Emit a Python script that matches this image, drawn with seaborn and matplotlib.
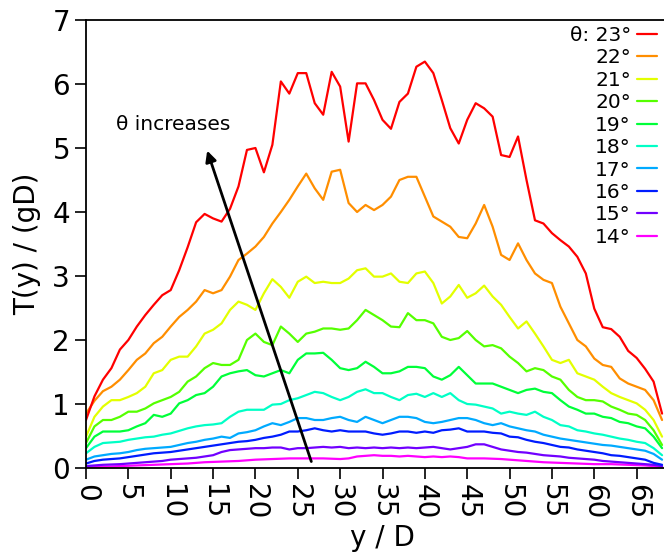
import colorsys
import matplotlib
matplotlib.use("Agg")
import matplotlib.pyplot as plt
import seaborn as sns
import pandas as pd

# y / D positions (common grid)
y_pos = list(range(0, 69))

thetas = [23, 22, 21, 20, 19, 18, 17, 16, 15, 14]

t23 = [0.75, 1.12, 1.38, 1.56, 1.85, 2.0, 2.21, 2.39, 2.55, 2.7,
       2.78, 3.09, 3.45, 3.84, 3.97, 3.9, 3.85, 4.05, 4.4, 4.97,
       5.0, 4.62, 5.05, 6.04, 5.85, 6.17, 6.17, 5.7, 5.52, 6.19,
       5.96, 5.1, 6.01, 6.01, 5.75, 5.44, 5.3, 5.72, 5.85, 6.27,
       6.35, 6.17, 5.75, 5.31, 5.07, 5.44, 5.7, 5.62, 5.49, 4.89,
       4.86, 5.18, 4.5, 3.87, 3.82, 3.67, 3.56, 3.46, 3.3, 3.04,
       2.49, 2.2, 2.17, 2.05, 1.83, 1.72, 1.55, 1.35, 0.85]
t22 = [0.85, 1.05, 1.2, 1.27, 1.38, 1.53, 1.69, 1.79, 1.95, 2.05,
       2.21, 2.36, 2.47, 2.6, 2.78, 2.73, 2.78, 2.99, 3.25, 3.35,
       3.46, 3.61, 3.82, 4.0, 4.19, 4.4, 4.6, 4.37, 4.19, 4.63,
       4.66, 4.14, 4.0, 4.11, 4.03, 4.11, 4.24, 4.5, 4.55, 4.55,
       4.24, 3.93, 3.85, 3.77, 3.61, 3.59, 3.82, 4.11, 3.77, 3.33,
       3.25, 3.51, 3.25, 3.04, 2.94, 2.89, 2.52, 2.26, 2.0, 1.9,
       1.71, 1.61, 1.58, 1.4, 1.32, 1.27, 1.22, 1.06, 0.75]
t21 = [0.49, 0.8, 0.96, 1.06, 1.06, 1.11, 1.17, 1.27, 1.48, 1.53,
       1.69, 1.74, 1.74, 1.9, 2.1, 2.16, 2.26, 2.47, 2.6, 2.55,
       2.47, 2.73, 2.95, 2.83, 2.66, 2.91, 2.99, 2.89, 2.91, 2.89,
       2.89, 2.96, 3.09, 3.12, 2.99, 2.99, 3.04, 2.91, 2.89, 3.04,
       3.07, 2.89, 2.57, 2.68, 2.86, 2.66, 2.73, 2.85, 2.68, 2.55,
       2.36, 2.18, 2.29, 2.1, 1.9, 1.69, 1.64, 1.69, 1.48, 1.43,
       1.38, 1.27, 1.17, 1.11, 1.06, 1.01, 0.91, 0.75, 0.49]
t20 = [0.39, 0.65, 0.75, 0.75, 0.8, 0.88, 0.88, 0.93, 1.01, 1.06,
       1.11, 1.19, 1.35, 1.43, 1.56, 1.64, 1.61, 1.61, 1.69, 2.0,
       2.1, 1.97, 1.92, 2.21, 2.1, 1.97, 2.1, 2.13, 2.18, 2.18,
       2.16, 2.18, 2.31, 2.47, 2.39, 2.31, 2.21, 2.2, 2.42, 2.31,
       2.31, 2.26, 2.05, 2.0, 2.03, 2.14, 2.0, 1.9, 1.92, 1.87,
       1.74, 1.64, 1.51, 1.56, 1.53, 1.43, 1.38, 1.22, 1.11, 1.06,
       1.06, 1.04, 0.96, 0.91, 0.85, 0.83, 0.75, 0.59, 0.36]
t19 = [0.31, 0.49, 0.57, 0.57, 0.57, 0.59, 0.65, 0.7, 0.83, 0.8,
       0.85, 1.01, 1.06, 1.14, 1.17, 1.27, 1.43, 1.48, 1.51, 1.53,
       1.45, 1.43, 1.48, 1.53, 1.48, 1.69, 1.79, 1.79, 1.8, 1.69,
       1.56, 1.53, 1.56, 1.66, 1.58, 1.48, 1.48, 1.51, 1.58, 1.58,
       1.56, 1.43, 1.38, 1.45, 1.58, 1.45, 1.32, 1.32, 1.32, 1.27,
       1.22, 1.17, 1.22, 1.24, 1.19, 1.17, 1.06, 0.96, 0.91, 0.85,
       0.85, 0.8, 0.78, 0.72, 0.7, 0.65, 0.62, 0.49, 0.31]
t18 = [0.23, 0.33, 0.39, 0.4, 0.41, 0.44, 0.46, 0.48, 0.49, 0.52,
       0.54, 0.58, 0.62, 0.65, 0.67, 0.68, 0.7, 0.8, 0.88, 0.91,
       0.91, 0.91, 0.99, 1.0, 1.06, 1.09, 1.14, 1.19, 1.17, 1.11,
       1.06, 1.11, 1.19, 1.23, 1.17, 1.17, 1.11, 1.06, 1.14, 1.16,
       1.11, 1.17, 1.11, 1.17, 1.06, 1.0, 0.99, 0.96, 0.93, 0.85,
       0.88, 0.85, 0.83, 0.88, 0.8, 0.75, 0.67, 0.65, 0.59, 0.57,
       0.54, 0.52, 0.49, 0.46, 0.44, 0.41, 0.39, 0.31, 0.2]
t17 = [0.13, 0.18, 0.2, 0.22, 0.23, 0.25, 0.28, 0.3, 0.31, 0.32,
       0.33, 0.36, 0.39, 0.41, 0.44, 0.46, 0.49, 0.47, 0.54, 0.56,
       0.59, 0.65, 0.7, 0.67, 0.72, 0.78, 0.78, 0.75, 0.75, 0.78,
       0.8, 0.75, 0.72, 0.8, 0.75, 0.7, 0.75, 0.8, 0.8, 0.78,
       0.72, 0.7, 0.72, 0.75, 0.78, 0.78, 0.75, 0.7, 0.67, 0.7,
       0.65, 0.62, 0.59, 0.57, 0.52, 0.49, 0.46, 0.44, 0.42, 0.4,
       0.38, 0.36, 0.35, 0.33, 0.31, 0.29, 0.27, 0.22, 0.13]
t16 = [0.07, 0.11, 0.13, 0.14, 0.15, 0.17, 0.19, 0.21, 0.23, 0.24,
       0.25, 0.27, 0.29, 0.31, 0.33, 0.35, 0.37, 0.39, 0.41, 0.42,
       0.44, 0.47, 0.49, 0.52, 0.57, 0.57, 0.59, 0.62, 0.59, 0.57,
       0.59, 0.57, 0.57, 0.57, 0.54, 0.52, 0.54, 0.57, 0.57, 0.55,
       0.57, 0.55, 0.59, 0.6, 0.62, 0.57, 0.57, 0.57, 0.55, 0.54,
       0.49, 0.48, 0.44, 0.41, 0.39, 0.36, 0.33, 0.32, 0.29, 0.27,
       0.25, 0.23, 0.2, 0.19, 0.17, 0.15, 0.13, 0.08, 0.05]
t15 = [0.03, 0.04, 0.05, 0.055, 0.06, 0.07, 0.08, 0.09, 0.1, 0.11,
       0.13, 0.14, 0.15, 0.16, 0.18, 0.2, 0.25, 0.28, 0.29, 0.3,
       0.31, 0.31, 0.32, 0.32, 0.29, 0.31, 0.31, 0.32, 0.33, 0.32,
       0.33, 0.31, 0.32, 0.31, 0.32, 0.31, 0.32, 0.31, 0.32, 0.31,
       0.32, 0.33, 0.31, 0.29, 0.31, 0.33, 0.37, 0.37, 0.33, 0.29,
       0.27, 0.25, 0.24, 0.22, 0.2, 0.19, 0.18, 0.16, 0.15, 0.14,
       0.13, 0.11, 0.1, 0.09, 0.08, 0.07, 0.06, 0.05, 0.03]
t14 = [0.01, 0.015, 0.02, 0.025, 0.03, 0.035, 0.04, 0.045, 0.05, 0.055,
       0.06, 0.065, 0.07, 0.08, 0.09, 0.095, 0.1, 0.105, 0.11, 0.12,
       0.13, 0.135, 0.14, 0.145, 0.15, 0.15, 0.15, 0.15, 0.15, 0.145,
       0.14, 0.15, 0.18, 0.19, 0.2, 0.19, 0.19, 0.18, 0.19, 0.18,
       0.17, 0.18, 0.17, 0.18, 0.17, 0.15, 0.15, 0.15, 0.145, 0.14,
       0.13, 0.12, 0.11, 0.1, 0.09, 0.085, 0.08, 0.075, 0.07, 0.065,
       0.06, 0.06, 0.06, 0.055, 0.05, 0.045, 0.04, 0.03, 0.02]

series = [t23, t22, t21, t20, t19, t18, t17, t16, t15, t14]

x_ticks = list(range(0, 70, 5))
y_ticks = list(range(0, 8))

# long-form table for seaborn
rows = []
for th, vals in zip(thetas, series):
    for yy, tt in zip(y_pos, vals):
        rows.append({'y': yy, 'T': tt, 'theta': th})
df = pd.DataFrame(rows)

# hue sweep red -> magenta
colors = [colorsys.hsv_to_rgb(i * 300 / 9 / 360, 1, 1) for i in range(len(thetas))]
palette = dict(zip(thetas, colors))

sns.set_style("white")
plt.rcParams['font.family'] = ['DejaVu Sans']
plt.rcParams['text.color'] = 'black'
plt.rcParams['axes.labelcolor'] = 'black'

fig = plt.figure(figsize=(6.64, 5.56), dpi=100)
ax = fig.add_axes([86 / 664, 88 / 556, 593 / 664, 448 / 556])

for th in thetas[::-1]:
    sub = df[df['theta'] == th]
    sns.lineplot(data=sub, x='y', y='T', color=palette[th], lw=1.6, ax=ax,
                 label=(f'θ: {th}°' if th == thetas[0] else f'{th}°'))

ax.set_xlim(0, 70)
ax.set_ylim(0, 7)
ax.set_xticks(x_ticks)
ax.set_yticks(y_ticks)
ax.tick_params(axis='both', direction='out', length=8, width=1.2, labelsize=20,
               left=True, bottom=True, colors='black')
plt.setp(ax.get_xticklabels(), rotation=-90)
ax.set_xlabel('y / D', fontsize=20, labelpad=3)
ax.set_ylabel('T(y) / (gD)', fontsize=20, labelpad=8)

for side in ['left', 'bottom', 'top']:
    ax.spines[side].set_color('black')
    ax.spines[side].set_linewidth(1.3)
ax.spines['right'].set_visible(False)

# arrow and annotation
ax.annotate('', xy=(14.2, 5.0), xytext=(26.7, 0.06),
            arrowprops=dict(arrowstyle='-|>', lw=2, color='black', mutation_scale=16))
ax.text(3.5, 5.36, 'θ increases', fontsize=14.5, va='center', ha='left')

handles, labels = ax.get_legend_handles_labels()
order = [labels.index(f'θ: {thetas[0]}°')] + [labels.index(f'{t}°') for t in thetas[1:]]
ax.legend([handles[i] for i in order], [labels[i] for i in order],
          loc='upper right', bbox_to_anchor=(657 / 664, 1 - 26 / 556),
          bbox_transform=fig.transFigure, frameon=False, markerfirst=False,
          fontsize=14.5, labelspacing=0.17, handlelength=1.0, handletextpad=0.3,
          borderpad=0, borderaxespad=0, labelcolor='black')

fig.savefig('out.png', dpi=100)
